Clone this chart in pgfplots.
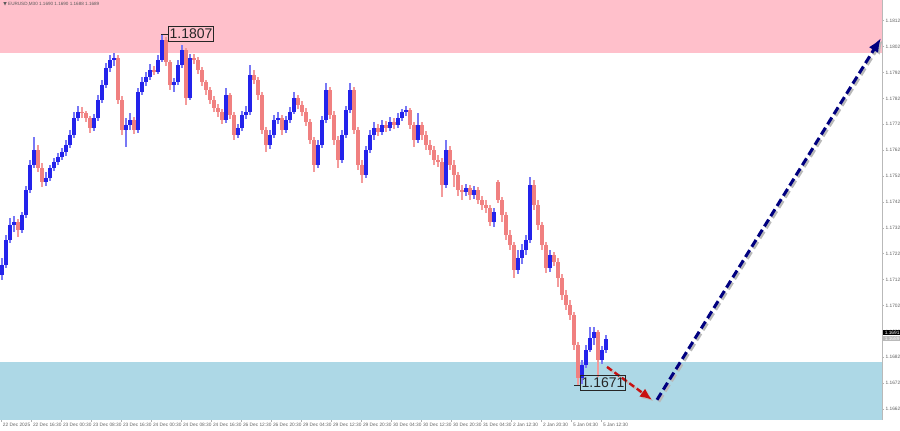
\documentclass[border=0pt]{standalone}
\usepackage{pgfplots}
\pgfplotsset{compat=1.18}
\usepackage{pgfplotstable}
\usepackage{fontspec}
\setmainfont{Liberation Sans}
\newfontfamily\dejavu{DejaVu Sans}
\usetikzlibrary{arrows.meta}
\definecolor{bullbody}{RGB}{35,35,235}
\definecolor{bullwick}{RGB}{120,120,245}
\definecolor{bearbody}{RGB}{240,128,128}
\definecolor{bearwick}{RGB}{244,155,155}
\definecolor{pinkzone}{RGB}{255,192,203}
\definecolor{bluezone}{RGB}{173,216,230}
\definecolor{navyarrow}{RGB}{0,0,128}
\definecolor{redarrow}{RGB}{200,16,16}
\pgfplotstableread{
x o h l c
2 1.17138 1.17204 1.17119 1.17177
6 1.17177 1.17293 1.17165 1.17273
10 1.17273 1.17358 1.17262 1.17331
14 1.17331 1.17366 1.17304 1.17343
18 1.17343 1.17354 1.17285 1.17312
22 1.17312 1.17382 1.17300 1.17370
26 1.17370 1.17482 1.17358 1.17466
30 1.17466 1.17582 1.17455 1.17563
34 1.17563 1.17671 1.17551 1.17621
38 1.17621 1.17640 1.17536 1.17551
42 1.17551 1.17571 1.17478 1.17497
46 1.17497 1.17536 1.17482 1.17513
50 1.17513 1.17563 1.17501 1.17551
54 1.17551 1.17590 1.17540 1.17575
58 1.17575 1.17609 1.17563 1.17594
62 1.17594 1.17629 1.17582 1.17613
66 1.17613 1.17659 1.17598 1.17640
70 1.17640 1.17698 1.17629 1.17679
74 1.17679 1.17768 1.17667 1.17744
78 1.17744 1.17791 1.17733 1.17768
82 1.17768 1.17787 1.17744 1.17764
86 1.17764 1.17775 1.17729 1.17744
90 1.17744 1.17752 1.17686 1.17706
94 1.17706 1.17760 1.17694 1.17744
98 1.17744 1.17833 1.17733 1.17814
102 1.17814 1.17891 1.17802 1.17872
106 1.17872 1.17957 1.17860 1.17938
110 1.17938 1.17988 1.17922 1.17968
114 1.17968 1.17995 1.17945 1.17976
118 1.17976 1.17988 1.17798 1.17814
122 1.17814 1.17829 1.17679 1.17698
126 1.17698 1.17744 1.17632 1.17717
130 1.17717 1.17764 1.17698 1.17737
134 1.17737 1.17748 1.17683 1.17698
138 1.17698 1.17860 1.17686 1.17845
142 1.17845 1.17903 1.17833 1.17883
146 1.17883 1.17922 1.17868 1.17903
150 1.17903 1.17953 1.17891 1.17930
154 1.17930 1.17945 1.17910 1.17922
158 1.17922 1.17988 1.17914 1.17968
162 1.17968 1.18069 1.17961 1.18046
166 1.18046 1.18057 1.17945 1.17961
170 1.17961 1.17968 1.17853 1.17872
174 1.17872 1.17899 1.17845 1.17883
178 1.17883 1.17968 1.17872 1.17949
182 1.17949 1.18026 1.17938 1.18007
186 1.18007 1.18015 1.17795 1.17822
190 1.17822 1.17992 1.17814 1.17976
194 1.17976 1.17992 1.17953 1.17968
198 1.17968 1.17980 1.17914 1.17930
202 1.17930 1.17941 1.17868 1.17883
206 1.17883 1.17891 1.17833 1.17853
210 1.17853 1.17864 1.17798 1.17814
214 1.17814 1.17829 1.17768 1.17783
218 1.17783 1.17798 1.17748 1.17768
222 1.17768 1.17779 1.17721 1.17737
226 1.17737 1.17860 1.17725 1.17833
230 1.17833 1.17841 1.17741 1.17756
234 1.17756 1.17768 1.17659 1.17679
238 1.17679 1.17721 1.17667 1.17706
242 1.17706 1.17771 1.17694 1.17756
246 1.17756 1.17791 1.17741 1.17768
250 1.17768 1.17949 1.17756 1.17910
254 1.17910 1.17930 1.17876 1.17891
258 1.17891 1.17903 1.17814 1.17833
262 1.17833 1.17845 1.17683 1.17698
266 1.17698 1.17710 1.17613 1.17640
270 1.17640 1.17698 1.17625 1.17679
274 1.17679 1.17756 1.17667 1.17737
278 1.17737 1.17768 1.17721 1.17744
282 1.17744 1.17756 1.17679 1.17698
286 1.17698 1.17752 1.17686 1.17737
290 1.17737 1.17787 1.17725 1.17768
294 1.17768 1.17845 1.17760 1.17822
298 1.17822 1.17833 1.17779 1.17795
302 1.17795 1.17810 1.17752 1.17768
306 1.17768 1.17783 1.17714 1.17729
310 1.17729 1.17741 1.17644 1.17659
314 1.17659 1.17671 1.17536 1.17563
318 1.17563 1.17659 1.17551 1.17640
322 1.17640 1.17752 1.17629 1.17737
326 1.17737 1.17880 1.17725 1.17853
330 1.17853 1.17864 1.17741 1.17756
334 1.17756 1.17771 1.17640 1.17659
338 1.17659 1.17675 1.17551 1.17582
342 1.17582 1.17698 1.17571 1.17679
346 1.17679 1.17791 1.17667 1.17775
350 1.17775 1.17880 1.17764 1.17853
354 1.17853 1.17864 1.17683 1.17698
358 1.17698 1.17710 1.17544 1.17563
362 1.17563 1.17582 1.17493 1.17524
366 1.17524 1.17636 1.17513 1.17621
370 1.17621 1.17698 1.17609 1.17679
374 1.17679 1.17729 1.17659 1.17706
378 1.17706 1.17721 1.17675 1.17690
382 1.17690 1.17737 1.17679 1.17717
386 1.17717 1.17733 1.17690 1.17706
390 1.17706 1.17748 1.17694 1.17729
394 1.17729 1.17744 1.17702 1.17717
398 1.17717 1.17764 1.17706 1.17744
402 1.17744 1.17779 1.17733 1.17768
406 1.17768 1.17791 1.17752 1.17775
410 1.17775 1.17783 1.17702 1.17717
414 1.17717 1.17729 1.17632 1.17659
418 1.17659 1.17764 1.17648 1.17717
422 1.17717 1.17729 1.17659 1.17679
426 1.17679 1.17694 1.17621 1.17640
430 1.17640 1.17659 1.17602 1.17621
434 1.17621 1.17636 1.17563 1.17582
438 1.17582 1.17602 1.17555 1.17575
442 1.17575 1.17590 1.17439 1.17486
446 1.17486 1.17659 1.17474 1.17621
450 1.17621 1.17636 1.17544 1.17563
454 1.17563 1.17582 1.17478 1.17524
458 1.17524 1.17536 1.17443 1.17466
462 1.17466 1.17486 1.17428 1.17459
466 1.17459 1.17490 1.17443 1.17474
470 1.17474 1.17486 1.17428 1.17447
474 1.17447 1.17482 1.17432 1.17466
478 1.17466 1.17478 1.17412 1.17428
482 1.17428 1.17443 1.17389 1.17409
486 1.17409 1.17428 1.17378 1.17397
490 1.17397 1.17409 1.17327 1.17343
494 1.17343 1.17397 1.17324 1.17382
498 1.17497 1.17505 1.17416 1.17428
502 1.17428 1.17439 1.17343 1.17370
506 1.17370 1.17382 1.17273 1.17293
510 1.17293 1.17312 1.17235 1.17254
514 1.17254 1.17266 1.17127 1.17158
518 1.17158 1.17235 1.17142 1.17204
522 1.17204 1.17258 1.17181 1.17235
526 1.17235 1.17293 1.17215 1.17273
530 1.17273 1.17517 1.17262 1.17486
534 1.17486 1.17505 1.17389 1.17409
538 1.17409 1.17428 1.17312 1.17331
542 1.17331 1.17343 1.17235 1.17254
546 1.17254 1.17266 1.17146 1.17165
550 1.17165 1.17235 1.17150 1.17215
554 1.17215 1.17227 1.17173 1.17188
558 1.17188 1.17204 1.17092 1.17127
562 1.17127 1.17142 1.17042 1.17061
566 1.17061 1.17080 1.17003 1.17022
570 1.17022 1.17042 1.16965 1.16984
574 1.16984 1.16995 1.16849 1.16868
578 1.16868 1.16880 1.16710 1.16741
582 1.16741 1.16810 1.16717 1.16791
586 1.16791 1.16868 1.16779 1.16849
590 1.16849 1.16937 1.16841 1.16895
594 1.16895 1.16937 1.16868 1.16918
598 1.16918 1.16926 1.16744 1.16810
602 1.16810 1.16864 1.16795 1.16849
606 1.16849 1.16907 1.16837 1.16891
}\candles
\pgfplotsset{candle/.style={draw=none, mark=none, forget plot, error bars/.cd, y dir=both, y explicit, error mark=none}}
\begin{document}
\begin{tikzpicture}
\useasboundingbox (0,-5.5pt) rectangle (450pt,210pt);
\begin{axis}[
  at={(0,0)}, anchor=south west,
  scale only axis, width=441pt, height=210pt,
  xmin=0, xmax=882, ymin=1.16578, ymax=1.18200,
  clip=false,
  axis x line*=bottom, axis y line*=right,
  axis line style={draw=gray!55, line width=0.5pt, -},
  tick style={draw=gray!60, line width=0.3pt},
  tick align=outside, major tick length=1pt,
  scaled y ticks=false,
  ytick={1.1662,1.1672,1.1682,1.1692,1.1702,1.1712,1.1722,1.1732,1.1742,1.1752,1.1762,1.1772,1.1782,1.1792,1.1802,1.1812},
  yticklabel style={font=\fontsize{2.4}{2.8}\selectfont, text=gray!75!black, inner sep=0.6pt,
    /pgf/number format/.cd, fixed, fixed zerofill, precision=4, assume math mode=true},
  xtick={1,31,61,91,121,151,181,211,241,271,301,331,361,391,421,451,481,511,541,571,601},
  xticklabels={22 Dec 2025,22 Dec 16:30,23 Dec 00:30,23 Dec 08:30,23 Dec 16:30,24 Dec 00:30,24 Dec 08:30,24 Dec 16:30,26 Dec 12:30,26 Dec 20:30,29 Dec 04:30,29 Dec 12:30,29 Dec 20:30,30 Dec 04:30,30 Dec 12:30,30 Dec 20:30,31 Dec 04:30,2 Jan 12:30,2 Jan 20:30,5 Jan 04:30,5 Jan 12:30},
  xticklabel style={anchor=north west, font=\fontsize{2.4}{2.8}\selectfont, text=gray!75!black, inner sep=0.6pt, xshift=0.2pt},
]
% zones
\addplot[fill=pinkzone, draw=none, forget plot] coordinates {(0,1.17995) (882,1.17995) (882,1.18200) (0,1.18200)} -- cycle;
\addplot[fill=bluezone, draw=none, forget plot] coordinates {(0,1.16578) (882,1.16578) (882,1.16802) (0,1.16802)} -- cycle;
% wicks
\addplot[candle, error bar style={line width=0.6pt, draw=bearwick}]
  table[x=x, y expr=(\thisrow{h}+\thisrow{l})/2, y error expr={\thisrow{c}<\thisrow{o} ? (\thisrow{h}-\thisrow{l})/2 : 0}] {\candles};
\addplot[candle, error bar style={line width=0.6pt, draw=bullwick}]
  table[x=x, y expr=(\thisrow{h}+\thisrow{l})/2, y error expr={\thisrow{c}>=\thisrow{o} ? (\thisrow{h}-\thisrow{l})/2 : 0}] {\candles};
% bodies
\addplot[candle, error bar style={line width=1.6pt, draw=bearbody}]
  table[x=x, y expr=(\thisrow{o}+\thisrow{c})/2, y error expr={\thisrow{c}<\thisrow{o} ? (\thisrow{o}-\thisrow{c})/2 : 0}] {\candles};
\addplot[candle, error bar style={line width=1.6pt, draw=bullbody}]
  table[x=x, y expr=(\thisrow{o}+\thisrow{c})/2, y error expr={\thisrow{c}>=\thisrow{o} ? (\thisrow{c}-\thisrow{o})/2 : 0}] {\candles};
% arrows (shadow first)
\addplot[gray!55, line width=1.2pt, dash pattern=on 3pt off 1.6pt, -{Latex[length=6pt,width=5pt]}, xshift=0.8pt, yshift=-0.8pt, forget plot] coordinates {(607,1.16783) (652,1.16656)};
\addplot[redarrow, line width=1.2pt, dash pattern=on 3pt off 1.6pt, -{Latex[length=6pt,width=5pt]}, forget plot] coordinates {(607,1.16783) (652,1.16656)};
\addplot[gray!55, line width=1.5pt, dash pattern=on 4pt off 2pt, -{Latex[length=7pt,width=5.5pt]}, xshift=0.9pt, yshift=-0.9pt, forget plot] coordinates {(657,1.16656) (881,1.18053)};
\addplot[navyarrow, line width=1.5pt, dash pattern=on 4pt off 2pt, -{Latex[length=7pt,width=5.5pt]}, forget plot] coordinates {(657,1.16656) (881,1.18053)};
% label leader lines
\addplot[gray!30!black, line width=0.4pt, forget plot] coordinates {(161,1.18069) (168,1.18069)};
\addplot[gray!30!black, line width=0.4pt, forget plot] coordinates {(574,1.16710) (580,1.16710)};
% labels
\node[draw=gray!30!black, line width=0.4pt, inner xsep=0.6pt, inner ysep=1.2pt, anchor=north west,
  font=\fontsize{7}{8}\selectfont, text=black!85] at (axis cs:168,1.18100) {1.1807};
\node[draw=gray!30!black, line width=0.4pt, inner xsep=0.6pt, inner ysep=1.2pt, anchor=north west,
  font=\fontsize{7}{8}\selectfont, text=black!85] at (axis cs:580,1.16752) {1.1671};
\node[anchor=north west, inner sep=0pt, font=\fontsize{2.3}{2.8}\selectfont, text=gray!70!black] at (axis cs:3,1.18192) {{\dejavu ▼}\ EURUSD,M30 1.1690 1.1690 1.1688 1.1689};
\node[anchor=west, fill=black, text=white, inner xsep=0.7pt, inner ysep=0.4pt, font=\fontsize{2.4}{2.8}\selectfont] at (axis cs:883,1.16914) {1.1691};
\node[anchor=west, fill=gray!55, text=white, inner xsep=0.7pt, inner ysep=0.4pt, font=\fontsize{2.4}{2.8}\selectfont] at (axis cs:883,1.16892) {1.1689};
\end{axis}
\end{tikzpicture}
\end{document}
